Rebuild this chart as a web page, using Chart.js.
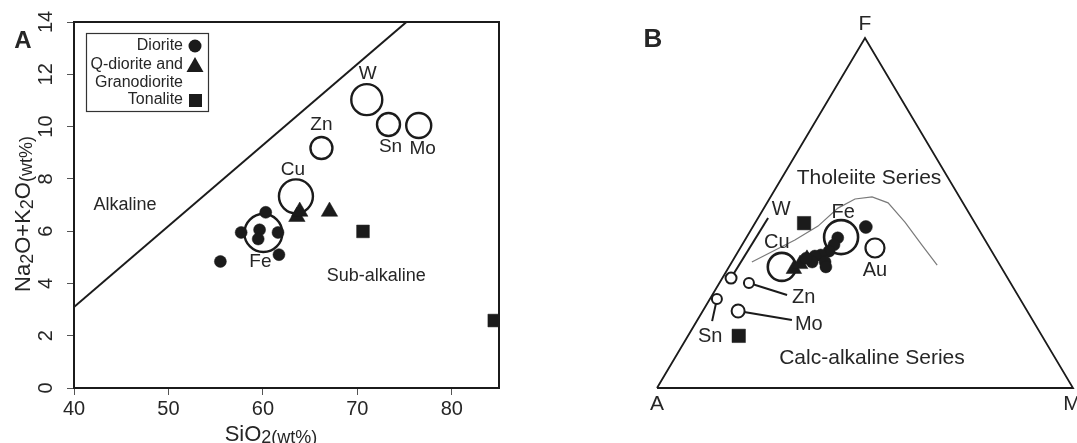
<!DOCTYPE html>
<html>
<head>
<meta charset="utf-8">
<title>TAS and AFM diagrams</title>
<script src="https://cdn.jsdelivr.net/npm/chart.js@4.4.0/dist/chart.umd.min.js"></script>
<style>
  html, body { margin: 0; padding: 0; background: #fff; }
  #wrap { position: relative; width: 1077px; height: 443px; overflow: hidden; background: #fff; }
  #tas { position: absolute; left: 0; top: 0; }
  #afm { position: absolute; left: 540px; top: 0; }
</style>
</head>
<body>
<div id="wrap">
  <canvas id="tas" width="540" height="443"></canvas>
  <canvas id="afm" width="537" height="443"></canvas>
</div>
<script>
// ---------- Panel A: total alkali (Na2O+K2O) vs SiO2, wt% ----------
const dioriteSiO2 = [60.3, 57.7, 59.65, 59.5, 61.6, 61.7, 55.5];
const dioriteAlk  = [6.72, 5.95, 6.05, 5.70, 5.95, 5.10, 4.84];
const qDioriteSiO2 = [63.6, 63.9, 67.05];
const qDioriteAlk  = [6.55, 6.75, 6.75];
const tonaliteSiO2 = [70.6, 84.5];
const tonaliteAlk  = [5.99, 2.58];
// ore-deposit fields
const oreNamesA = ['W', 'Sn', 'Mo', 'Zn', 'Cu', 'Fe'];
const oreSiO2   = [71.0, 73.3, 76.5, 66.2, 63.5, 60.05];
const oreAlk    = [11.03, 10.08, 10.04, 9.18, 7.33, 5.93];
// alkaline / sub-alkaline divide
const divideSiO2 = [40, 75.2];
const divideAlk  = [3.1, 14];
const xTicksA = [40, 50, 60, 70, 80];
const yTicksA = [0, 2, 4, 6, 8, 10, 12, 14];

// ---------- Panel B: AFM ternary (A = Na2O+K2O, F = FeOt, M = MgO), % ----------
const dioriteA = [26.8, 35.1, 37.0, 39.1, 41.6, 41.6, 43.2, 44.7, 45.6, 42.1];
const dioriteF = [46.0, 42.9, 40.9, 39.1, 38.0, 36.0, 37.7, 36.0, 37.1, 34.6];
const dioriteM = [27.2, 22.0, 22.1, 21.8, 20.4, 22.4, 19.1, 19.3, 17.3, 23.3];
const qDioriteA = [50.1, 47.9, 45.5];
const qDioriteF = [34.0, 35.4, 36.9];
const qDioriteM = [15.9, 16.7, 17.6];
const tonaliteA = [41.1, 72.9];
const tonaliteF = [47.1, 14.9];
const tonaliteM = [11.8, 12.2];
const oreNamesB = ['Fe', 'Cu', 'Au', 'W', 'Zn', 'Sn', 'Mo'];
const oreA = [34.2, 52.7, 27.6, 66.5, 62.9, 72.9, 69.5];
const oreF = [43.1, 34.6, 40.0, 31.4, 30.0, 25.4, 22.0];
const oreM = [22.7, 12.7, 32.4, 2.1, 7.1, 1.7, 8.5];
// tie lines from the small W, Zn, Sn, Mo fields out to their names
const tieNames = ['W', 'Zn', 'Sn', 'Mo'];
const tieEndA = [49.0, 55.5, 77.2, 57.8];
const tieEndF = [48.6, 26.6, 19.1, 19.4];
const tieEndM = [2.4, 18.0, 3.7, 22.7];
// tholeiite / calc-alkaline boundary
const boundA = [59.2, 45.7, 38.2, 30.8, 25.4, 21.0, 18.0, 16.7, 15.9, 15.1];
const boundF = [36.0, 42.3, 46.3, 51.4, 54.0, 54.6, 52.9, 47.4, 40.9, 35.1];
const boundM = [4.8, 12.0, 15.6, 17.8, 20.6, 24.4, 29.1, 35.9, 43.2, 49.8];
// triangle outline A -> F -> M -> A
const edgeA = [100, 0, 0, 100];
const edgeF = [0, 100, 0, 0];
const edgeM = [0, 0, 100, 0];

const FONT = '"Liberation Sans", Arial, Helvetica, sans-serif';
const INK = '#1b1b1b';
const TXT = '#262626';
Chart.defaults.font.family = FONT;
Chart.defaults.color = TXT;

function xy(xs, ys) { return xs.map((v, i) => ({ x: v, y: ys[i] })); }

// ternary -> unit-triangle cartesian: A(0,0), M(1,0), F(0.5,1)
function tern(as, fs, ms) {
  return as.map((a, i) => {
    const t = a + fs[i] + ms[i];
    const f = fs[i] / t, m = ms[i] / t;
    return { x: m + f / 2, y: f };
  });
}

// draws a run of text pieces [text, size, baselineShift] centred on cx
function richText(ctx, parts, cx, baseY) {
  let w = 0;
  parts.forEach(p => { ctx.font = p[1] + 'px ' + FONT; w += ctx.measureText(p[0]).width; });
  let xx = cx - w / 2;
  ctx.textAlign = 'left';
  ctx.textBaseline = 'alphabetic';
  parts.forEach(p => {
    ctx.font = p[1] + 'px ' + FONT;
    ctx.fillText(p[0], xx, baseY + p[2]);
    xx += ctx.measureText(p[0]).width;
  });
}

function label(ctx, text, x, y, size, align, bold) {
  ctx.font = (bold ? 'bold ' : '') + size + 'px ' + FONT;
  ctx.textAlign = align || 'center';
  ctx.textBaseline = 'middle';
  ctx.fillText(text, x, y);
}

// ---------- Panel A decorations ----------
const tasDecor = {
  id: 'tasDecor',
  afterDraw(chart) {
    const { ctx, chartArea: ca, scales: { x, y } } = chart;
    ctx.save();
    // plot frame
    ctx.strokeStyle = INK;
    ctx.lineWidth = 2;
    ctx.strokeRect(ca.left, ca.top, ca.right - ca.left, ca.bottom - ca.top);

    ctx.fillStyle = TXT;
    // y tick labels, turned to read upwards
    yTicksA.forEach(v => {
      ctx.save();
      ctx.translate(ca.left - 28, y.getPixelForValue(v));
      ctx.rotate(-Math.PI / 2);
      label(ctx, String(v), 0, 0, 20);
      ctx.restore();
    });

    // axis titles
    richText(ctx, [['SiO', 22, 0], ['2(wt%)', 18, 2]], 271, 441);
    ctx.save();
    ctx.translate(30, 214);
    ctx.rotate(-Math.PI / 2);
    richText(ctx, [['Na', 22, 0], ['2', 18, 3], ['O+K', 22, 0], ['2', 18, 3], ['O', 22, 0], ['(wt%)', 18, 2]], 0, 0);
    ctx.restore();

    // panel letter
    label(ctx, 'A', 23, 41, 24, 'center', true);

    // field names
    label(ctx, 'Alkaline', x.getPixelForValue(45.4), y.getPixelForValue(7.0), 18);
    label(ctx, 'Sub-alkaline', x.getPixelForValue(72.0), y.getPixelForValue(4.28), 18);

    // deposit names next to their fields
    const off = { W: [1, -26], Sn: [2, 22], Mo: [4, 23], Zn: [0, -23], Cu: [-3, -27], Fe: [-3, 29] };
    const oreMeta = chart.getDatasetMeta(1);
    oreNamesA.forEach((n, i) => {
      const el = oreMeta.data[i];
      label(ctx, n, el.x + off[n][0], el.y + off[n][1], 19);
    });

    // legend
    ctx.strokeStyle = '#333';
    ctx.lineWidth = 1.2;
    ctx.strokeRect(86.5, 33.5, 122, 78);
    ctx.fillStyle = TXT;
    label(ctx, 'Diorite', 183, 46, 16, 'right');
    label(ctx, 'Q-diorite and', 183, 65, 16, 'right');
    label(ctx, 'Granodiorite', 183, 83, 16, 'right');
    label(ctx, 'Tonalite', 183, 100, 16, 'right');
    ctx.fillStyle = INK;
    ctx.beginPath(); ctx.arc(195, 46, 6.5, 0, Math.PI * 2); ctx.fill();
    ctx.beginPath(); ctx.moveTo(195, 57); ctx.lineTo(203.5, 72); ctx.lineTo(186.5, 72); ctx.closePath(); ctx.fill();
    ctx.fillRect(189, 94, 13, 13);
    ctx.restore();
  }
};

const tasChart = new Chart(document.getElementById('tas'), {
  type: 'scatter',
  data: {
    datasets: [
      { label: 'divide', data: xy(divideSiO2, divideAlk), showLine: true, borderColor: INK, borderWidth: 2,
        pointRadius: 0, fill: false, order: 6 },
      { label: 'ore fields', data: xy(oreSiO2, oreAlk), pointStyle: 'circle',
        pointRadius: [15.5, 11.5, 12.5, 11, 17, 19], backgroundColor: 'rgba(255,255,255,0)',
        borderColor: INK, borderWidth: 2.4, order: 5 },
      { label: 'Diorite', data: xy(dioriteSiO2, dioriteAlk), pointStyle: 'circle', pointRadius: 6,
        backgroundColor: INK, borderColor: INK, borderWidth: 0.5, order: 1 },
      { label: 'Q-diorite and Granodiorite', data: xy(qDioriteSiO2, qDioriteAlk), pointStyle: 'triangle',
        pointRadius: 9.5, backgroundColor: INK, borderColor: INK, borderWidth: 0.5, order: 2 },
      { label: 'Tonalite', data: xy(tonaliteSiO2, tonaliteAlk), pointStyle: 'rect', pointRadius: 9,
        backgroundColor: INK, borderColor: INK, borderWidth: 0.5, order: 3 }
    ]
  },
  options: {
    responsive: false,
    animation: false,
    events: [],
    layout: { autoPadding: false, padding: { left: 0, right: 41, top: 22, bottom: 0 } },
    plugins: { legend: { display: false }, tooltip: { enabled: false } },
    scales: {
      x: {
        type: 'linear', min: 40, max: 85,
        afterBuildTicks: s => { s.ticks = xTicksA.map(v => ({ value: v })); },
        afterFit: s => { s.height = 55; },
        grid: { drawOnChartArea: false, drawTicks: true, tickLength: 7, tickColor: '#555', tickWidth: 1 },
        border: { display: false },
        ticks: { font: { size: 20 }, color: TXT, padding: 2, maxRotation: 0, autoSkip: false }
      },
      y: {
        type: 'linear', min: 0, max: 14,
        afterBuildTicks: s => { s.ticks = yTicksA.map(v => ({ value: v })); },
        afterFit: s => { s.width = 74; },
        grid: { drawOnChartArea: false, drawTicks: true, tickLength: 7, tickColor: '#555', tickWidth: 1 },
        border: { display: false },
        ticks: { display: false }
      }
    }
  },
  plugins: [tasDecor]
});

// ---------- Panel B decorations ----------
const afmDecor = {
  id: 'afmDecor',
  afterDraw(chart) {
    const { ctx, scales: { x, y } } = chart;
    const px = u => x.getPixelForValue(u);
    const py = v => y.getPixelForValue(v);
    ctx.save();
    ctx.fillStyle = TXT;
    label(ctx, 'B', 113, 40, 26, 'center', true);
    // apices
    label(ctx, 'F', px(0.5), py(1) - 14, 21);
    label(ctx, 'A', px(0), py(0) + 16, 21);
    label(ctx, 'M', px(1) - 1, py(0) + 16, 21);
    // series fields
    label(ctx, 'Tholeiite Series', px(0.5096), py(0.6), 21);
    label(ctx, 'Calc-alkaline Series', px(0.5168), py(0.0857), 21);

    // names for the large fields, beside the circle
    const oreMeta = chart.getDatasetMeta(3);
    const off = { Fe: [2, -25], Cu: [-5, -24], Au: [0, 22] };
    oreNamesB.forEach((n, i) => {
      if (!off[n]) return;
      const el = oreMeta.data[i];
      label(ctx, n, el.x + off[n][0], el.y + off[n][1], 20);
    });
    // names for the small fields, at the far end of their tie lines
    const tieOff = { W: [13, -8, 'center'], Zn: [5, 2, 'left'], Sn: [-2, 15, 'center'], Mo: [3, 4, 'left'] };
    const ends = tern(tieEndA, tieEndF, tieEndM);
    tieNames.forEach((n, i) => {
      label(ctx, n, px(ends[i].x) + tieOff[n][0], py(ends[i].y) + tieOff[n][1], 20, tieOff[n][2]);
    });
    ctx.restore();
  }
};

// one straight tie line per small field, from the field centre to its name
const tieSets = tieNames.map((n, i) => {
  const k = oreNamesB.indexOf(n);
  const from = tern([oreA[k]], [oreF[k]], [oreM[k]])[0];
  const to = tern([tieEndA[i]], [tieEndF[i]], [tieEndM[i]])[0];
  return { label: 'tie ' + n, data: [from, to], showLine: true, borderColor: INK, borderWidth: 2,
           pointRadius: 0, fill: false, clip: false, order: 5 };
});

const afmChart = new Chart(document.getElementById('afm'), {
  type: 'scatter',
  data: {
    datasets: [
      { label: 'Diorite', data: tern(dioriteA, dioriteF, dioriteM), pointStyle: 'circle',
        pointRadius: [6.5, 6, 6, 6, 6, 6, 6, 6, 6, 6], backgroundColor: INK, borderColor: INK,
        borderWidth: 0.5, clip: false, order: 1 },
      { label: 'Q-diorite and Granodiorite', data: tern(qDioriteA, qDioriteF, qDioriteM), pointStyle: 'triangle',
        pointRadius: 9, backgroundColor: INK, borderColor: INK, borderWidth: 0.5, clip: false, order: 2 },
      { label: 'Tonalite', data: tern(tonaliteA, tonaliteF, tonaliteM), pointStyle: 'rect',
        pointRadius: 9.5, backgroundColor: INK, borderColor: INK, borderWidth: 0.5, clip: false, order: 3 },
      { label: 'ore fields', data: tern(oreA, oreF, oreM), pointStyle: 'circle',
        pointRadius: [17, 14, 9.5, 5.5, 5, 5, 6.5], backgroundColor: '#fff', borderColor: INK,
        borderWidth: [2.6, 2.6, 2.2, 2, 2, 2, 2], clip: false, order: 4 },
      ...tieSets,
      { label: 'boundary', data: tern(boundA, boundF, boundM), showLine: true, borderColor: '#7a7a7a',
        borderWidth: 1.2, pointRadius: 0, fill: false, clip: false, order: 7 },
      { label: 'outline', data: tern(edgeA, edgeF, edgeM), showLine: true, borderColor: INK,
        borderWidth: 1.8, pointRadius: 0, fill: false, clip: false, order: 8 }
    ]
  },
  options: {
    responsive: false,
    animation: false,
    events: [],
    layout: { autoPadding: false, padding: { left: 117, right: 4, top: 38, bottom: 55 } },
    plugins: { legend: { display: false }, tooltip: { enabled: false } },
    scales: {
      x: { type: 'linear', min: 0, max: 1, display: false },
      y: { type: 'linear', min: 0, max: 1, display: false }
    }
  },
  plugins: [afmDecor]
});
</script>
</body>
</html>
